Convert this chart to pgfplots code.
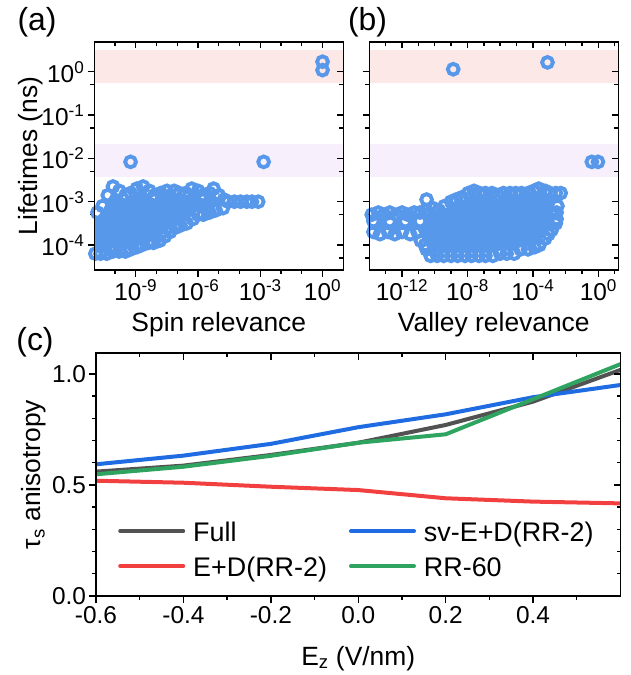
\documentclass[border=0pt]{standalone}
\usepackage{pgfplots}
\pgfplotsset{compat=1.18}
\usepackage{fontspec}
\setmainfont{Liberation Sans}

\definecolor{dot}{RGB}{88,152,234}
\definecolor{bandred}{RGB}{253,232,232}
\definecolor{bandviolet}{RGB}{248,239,252}
\definecolor{cfull}{RGB}{82,82,82}
\definecolor{csv}{RGB}{31,108,226}
\definecolor{ced}{RGB}{242,64,64}
\definecolor{crr}{RGB}{46,164,96}

\newcommand{\tk}[1]{10\textsuperscript{#1}}

\pgfplotsset{
  panelframe/.style={scale only axis, anchor=south west,
    axis line style={line width=1.5bp},
    tick style={black, line width=1.4bp},
    major tick length=6.5bp, minor tick length=4bp,
    tick label style={font=\fontsize{24.5}{24.5}\selectfont},
    label style={font=\fontsize{26.5}{26.5}\selectfont}},
  ticksout/.style={panelframe, tick align=outside, xtick pos=left, ytick pos=left},
  ticksin/.style={panelframe, tick align=inside, xtick pos=right, ytick pos=right,
    xticklabels={}, yticklabels={}},
  lifeaxis/.style={width=249bp, height=228bp,
    ymin=2.65e-5, ymax=4.85,
    ytick={1e-4,1e-3,1e-2,1e-1,1},
    minor ytick={5e-5,5e-4,5e-3,5e-2,5e-1}},
  spinaxis/.style={xmin=1e-11, xmax=10, xtick={1e-9,1e-6,1e-3,1},
    minor xtick={1e-10,1e-8,1e-7,1e-5,1e-4,1e-2,1e-1}},
  valleyaxis/.style={xmin=1e-14, xmax=16.6, xtick={1e-12,1e-8,1e-4,1},
    minor xtick={1e-13,1e-11,1e-10,1e-9,1e-7,1e-6,1e-5,1e-3,1e-2,1e-1,10}},
  fieldaxis/.style={width=524.5bp, height=243bp, xmin=-0.6, xmax=0.6, ymin=0, ymax=1.094,
    xtick={-0.6,-0.4,-0.2,0,0.2,0.4}, minor xtick={-0.5,-0.3,-0.1,0.1,0.3,0.5},
    ytick={0,0.5,1}, minor ytick={0.1,0.2,0.3,0.4,0.6,0.7,0.8,0.9}},
  shade/.style={draw=none, forget plot},
  cloudfill/.style={draw=none, fill=dot, forget plot},
  rings/.style={only marks, mark=o, mark size=5.4bp,
    mark options={draw=dot, line width=3.9bp}, forget plot},
  holes/.style={only marks, mark=*, mark size=5.4bp,
    mark options={draw=dot, fill=white, line width=3.9bp}, forget plot},
}

\begin{document}
\begin{tikzpicture}
\path[use as bounding box] (0bp,0bp) rectangle (631bp,-675bp);

% (a) spin relevance
\begin{axis}[xmode=log, ymode=log, ticksout, lifeaxis, spinaxis, at={(94.3bp,-270bp)},
  xticklabels={\tk{-9},\tk{-6},\tk{-3},\tk{0}},
  yticklabels={\tk{-4},\tk{-3},\tk{-2},\tk{-1},\tk{0}},
  xlabel={Spin relevance}, ylabel={Lifetimes (ns)},
  xlabel style={at={(axis description cs:0.5,-0.2706)}, anchor=base},
  ylabel style={at={(axis description cs:-0.2295,0.5)}, anchor=base}]
\addplot[shade, fill=bandred] coordinates {(1e-12,0.557) (100,0.557) (100,3.16) (1e-12,3.16)} --cycle;
\addplot[shade, fill=bandviolet] coordinates {(1e-12,3.77e-3) (100,3.77e-3) (100,2.14e-2) (1e-12,2.14e-2)} --cycle;
\addplot[cloudfill] coordinates {
  (5.01e-12,5.01e-4) (1.41e-11,4.47e-4) (2.51e-11,6.31e-4) (4.47e-11,1.12e-3)
  (7.94e-11,1.78e-3) (3.16e-10,1.12e-3) (1.12e-9,1.58e-3) (2.24e-9,1.78e-3)
  (7.94e-9,1.12e-3) (3.16e-8,1.41e-3) (1.26e-7,1.26e-3) (5.01e-7,1.58e-3)
  (1.78e-6,1.12e-3) (5.62e-6,1.58e-3) (1e-5,1.12e-3) (1.78e-5,8.91e-4)
  (3.55e-6,7.08e-4) (1e-6,6.31e-4) (2.82e-7,3.98e-4) (7.94e-8,3.16e-4)
  (2.51e-8,2.0e-4) (1.41e-8,1.58e-4) (3.98e-9,1.41e-4) (1.12e-9,1.12e-4)
  (3.16e-10,8.91e-5) (7.94e-11,8.91e-5) (2.0e-11,7.94e-5) (5.01e-12,7.94e-5)} --cycle;
\addplot[rings] coordinates {
  (5.01e-12,6.31e-4) (1.41e-11,5.62e-4) (2.51e-11,7.94e-4) (4.47e-11,1.41e-3)
  (7.94e-11,2.24e-3) (1.58e-10,1.78e-3) (3.16e-10,1.41e-3) (5.62e-10,1.58e-3)
  (1.12e-9,2.0e-3) (2.24e-9,2.24e-3) (4.47e-9,1.78e-3) (7.94e-9,1.41e-3)
  (1.58e-8,1.58e-3) (3.16e-8,1.78e-3) (7.08e-8,1.78e-3) (1.26e-7,1.58e-3)
  (2.51e-7,1.58e-3) (5.01e-7,2.0e-3) (1e-6,1.78e-3) (1.78e-6,1.41e-3)
  (3.55e-6,1.58e-3) (5.62e-6,2.0e-3) (1e-5,1.41e-3) (1.78e-5,1.12e-3)
  (2.82e-5,1e-3) (5.62e-5,1e-3) (1.12e-4,1e-3) (2.24e-4,1e-3) (3.98e-4,1e-3) (7.94e-4,1e-3)
  (1.58e-5,7.08e-4) (7.08e-6,6.31e-4) (3.55e-6,5.62e-4) (1.78e-6,5.01e-4)
  (1e-6,5.01e-4) (5.62e-7,3.98e-4) (2.82e-7,3.16e-4) (1.41e-7,2.82e-4)
  (7.94e-8,2.51e-4) (4.47e-8,2.0e-4) (2.51e-8,1.58e-4) (1.41e-8,1.26e-4)
  (7.08e-9,1.12e-4) (3.98e-9,1.12e-4) (2.0e-9,1.0e-4) (1.12e-9,8.91e-5)
  (5.62e-10,7.94e-5) (3.16e-10,7.08e-5) (1.58e-10,7.08e-5) (7.94e-11,7.08e-5)
  (3.98e-11,6.31e-5) (2.0e-11,6.31e-5) (1.12e-11,6.31e-5) (5.62e-12,6.31e-5)};
\addplot[rings] coordinates {(1,1.70) (1,1.09) (5.6e-10,8.3e-3) (1.45e-3,8.3e-3)};
\end{axis}
\begin{axis}[xmode=log, ymode=log, ticksin, lifeaxis, spinaxis, at={(94.3bp,-270bp)}]
\end{axis}

% (b) valley relevance
\begin{axis}[xmode=log, ymode=log, ticksout, lifeaxis, valleyaxis, at={(369.3bp,-270bp)},
  xticklabels={\tk{-12},\tk{-8},\tk{-4},\tk{0}}, yticklabels={},
  xlabel={Valley relevance},
  xlabel style={at={(axis description cs:0.5,-0.2706)}, anchor=base}]
\addplot[shade, fill=bandred] coordinates {(1e-16,0.557) (100,0.557) (100,3.16) (1e-16,3.16)} --cycle;
\addplot[shade, fill=bandviolet] coordinates {(1e-16,3.77e-3) (100,3.77e-3) (100,2.14e-2) (1e-16,2.14e-2)} --cycle;
\addplot[cloudfill] coordinates {
  (6.31e-16,3.98e-4) (1.26e-11,4.47e-4) (7.94e-11,5.62e-4) (3.98e-10,7.08e-4)
  (1e-9,7.94e-4) (4.47e-9,1e-3) (2.51e-8,1.58e-3) (1.26e-7,1.26e-3)
  (7.08e-7,1.12e-3) (3.98e-6,1.41e-3) (5.01e-5,1.41e-3) (2.24e-4,1.58e-3)
  (1.12e-3,1.26e-3) (2.82e-3,1.26e-3) (1.58e-3,6.31e-4) (1.58e-3,3.55e-4)
  (7.94e-4,2.24e-4) (3.16e-4,1.26e-4) (5.01e-5,1e-4) (7.08e-6,7.94e-5)
  (1e-6,7.94e-5) (3.55e-10,7.08e-5) (5.62e-11,7.08e-5) (2.24e-11,1.12e-4)
  (8.91e-12,2.24e-4) (6.31e-16,2.24e-4)} --cycle;
\addplot[holes] coordinates {(1.78e-14,3.55e-4) (1.78e-13,3.55e-4) (1.58e-12,3.55e-4) (1.26e-11,3.55e-4)};
\addplot[rings] coordinates {
  (1.41e-15,5.62e-4) (2.82e-15,5.01e-4) (6.31e-15,5.62e-4) (1.41e-14,5.01e-4)
  (3.55e-14,5.62e-4) (7.94e-14,5.01e-4) (1.78e-13,5.62e-4) (4.47e-13,5.01e-4)
  (1e-12,5.62e-4) (2.24e-12,5.01e-4) (5.62e-12,5.62e-4) (1.26e-11,5.62e-4)
  (3.16e-11,1.12e-3) (3.16e-11,6.31e-4) (7.94e-11,7.08e-4) (1.78e-10,6.31e-4)
  (3.98e-10,7.94e-4) (1e-9,1e-3) (2.0e-9,1.12e-3) (4.47e-9,1.26e-3)
  (1.12e-8,1.58e-3) (2.51e-8,1.78e-3) (5.62e-8,1.58e-3) (1.26e-7,1.58e-3)
  (3.16e-7,1.58e-3) (7.08e-7,1.41e-3) (1.58e-6,1.58e-3) (3.98e-6,1.58e-3)
  (8.91e-6,1.58e-3) (2.0e-5,1.58e-3) (5.01e-5,1.58e-3) (1.12e-4,1.78e-3)
  (2.24e-4,2.0e-3) (5.62e-4,1.78e-3) (1.12e-3,1.58e-3) (2.51e-3,1.58e-3) (5.01e-3,1.58e-3)
  (3.16e-3,7.94e-4) (2.82e-3,5.62e-4) (2.82e-3,3.98e-4) (2.51e-3,3.16e-4)
  (1.41e-3,2.24e-4) (8.91e-4,1.78e-4) (5.62e-4,1.41e-4) (2.51e-4,1e-4)
  (1.26e-4,8.91e-5) (5.01e-5,7.94e-5) (1.78e-5,7.94e-5)
  (7.08e-6,6.31e-5) (2.51e-6,6.31e-5) (1e-6,6.31e-5) (3.55e-7,5.62e-5)
  (1.26e-7,5.62e-5) (5.01e-8,5.62e-5) (1.78e-8,5.62e-5) (7.08e-9,5.62e-5)
  (2.51e-9,5.62e-5) (1e-9,5.62e-5) (3.55e-10,5.62e-5) (1.41e-10,5.62e-5)
  (5.62e-11,5.62e-5) (3.16e-11,7.94e-5) (2.51e-11,1e-4) (1.41e-11,1.26e-4)
  (8.91e-12,2.0e-4) (3.16e-12,1.78e-4) (1e-12,2.0e-4) (3.55e-13,1.78e-4)
  (1.41e-13,2.0e-4) (4.47e-14,1.78e-4) (1.78e-14,2.0e-4) (6.31e-15,1.78e-4) (2.82e-15,2.0e-4)};
\addplot[rings] coordinates {(1.35e-9,1.14) (7.8e-4,1.64) (0.4,8.3e-3) (0.95,8.3e-3)};
\end{axis}
\begin{axis}[xmode=log, ymode=log, ticksin, lifeaxis, valleyaxis, at={(369.3bp,-270bp)}]
\end{axis}

% (c) anisotropy
\begin{axis}[ticksout, fieldaxis, at={(96bp,-596bp)},
  xticklabels={-0.6,-0.4,-0.2,0.0,0.2,0.4}, yticklabels={0.0,0.5,1.0},
  xlabel={E\textsubscript{z} (V/nm)}, ylabel={τ\textsubscript{s} anisotropy},
  xlabel style={at={(axis description cs:0.5,-0.284)}, anchor=base},
  ylabel style={at={(axis description cs:-0.105,0.5)}, anchor=base},
  legend columns=2, legend cell align=left,
  legend style={draw=none, fill=none, inner sep=0pt,
    at={(axis description cs:0.042,0.309)}, anchor=north west,
    font=\fontsize{27}{27}\selectfont, row sep=15bp,
    nodes={inner sep=0pt, text height=20bp, text depth=0pt},
    /tikz/every odd column/.append style={column sep=8bp},
    /tikz/every even column/.append style={column sep=22bp}},
  legend image code/.code={\draw[#1, line cap=round] (0bp,0bp) -- (63bp,0bp);},
  every axis plot/.append style={line width=4bp, line join=round}]
\addplot[cfull] coordinates {(-0.6,0.560) (-0.4,0.587) (-0.2,0.635) (0,0.690) (0.2,0.770) (0.4,0.875) (0.6,1.018)};
\addlegendentry{Full}
\addplot[csv] coordinates {(-0.6,0.593) (-0.4,0.632) (-0.2,0.685) (0,0.760) (0.2,0.818) (0.4,0.895) (0.6,0.950)};
\addlegendentry{sv-E+D(RR-2)}
\addplot[ced] coordinates {(-0.6,0.519) (-0.4,0.510) (-0.2,0.492) (0,0.477) (0.2,0.440) (0.4,0.425) (0.6,0.417)};
\addlegendentry{E+D(RR-2)}
\addplot[crr] coordinates {(-0.6,0.548) (-0.4,0.582) (-0.2,0.631) (0,0.690) (0.2,0.728) (0.4,0.886) (0.6,1.044)};
\addlegendentry{RR-60}
\end{axis}
\begin{axis}[ticksin, fieldaxis, at={(96bp,-596bp)}]
\end{axis}

\node[font=\fontsize{32}{32}\selectfont, anchor=base] at (37bp,-30bp) {(a)};
\node[font=\fontsize{32}{32}\selectfont, anchor=base] at (367.5bp,-30bp) {(b)};
\node[font=\fontsize{32}{32}\selectfont, anchor=base] at (35bp,-350bp) {(c)};
\end{tikzpicture}
\end{document}
